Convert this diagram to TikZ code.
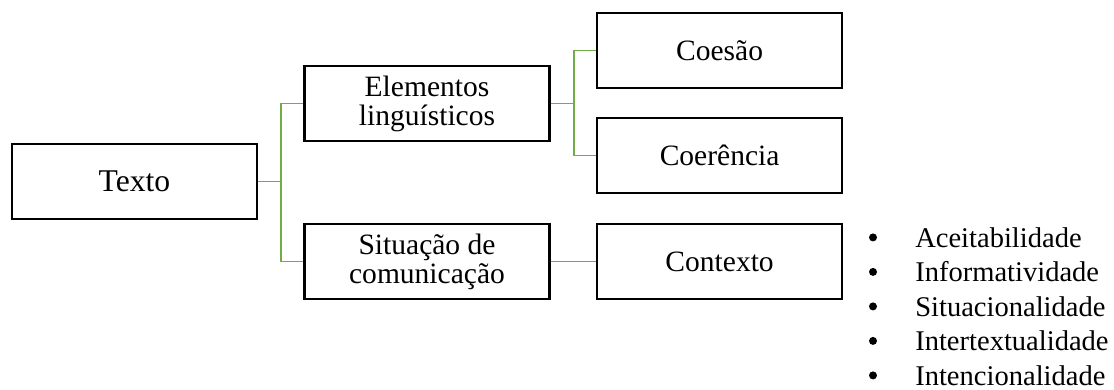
\documentclass[tikz,border=0pt]{standalone}
\usepackage{fontspec}
\setmainfont{Liberation Serif}
\usepackage{tikz}
\usetikzlibrary{calc}
\definecolor{verde}{HTML}{70AD47}

\begin{document}
\begin{tikzpicture}[
    caixa/.style={draw,line width=1.8pt,minimum width=6.125cm,minimum height=1.875cm,
      inner sep=0pt,align=center,font=\fontsize{21pt}{20.6pt}\selectfont},
    ligacao/.style={verde,line width=1.1pt},
    marca/.style={circle,fill,inner sep=0pt,minimum size=0.2cm},
    item/.style={anchor=base west,inner sep=0pt,font=\fontsize{20.3pt}{24pt}\selectfont}
  ]
      \useasboundingbox (0,0) rectangle (27.85,-9.725);

      % caixas
      \node[caixa,font=\fontsize{22.5pt}{22pt}\selectfont] (texto) at (3.36,-4.54) {Texto};
      \node[caixa] (elem) at (10.675,-2.59) {Elementos\\linguísticos};
      \node[caixa] (sit) at (10.675,-6.54) {Situação de\\comunicação};
      \node[caixa] (coesao) at (17.99,-1.26) {Coesão};
      \node[caixa] (coer) at (17.99,-3.89) {Coerência};
      \node[caixa] (cont) at (17.99,-6.54) {Contexto};

      % ligacoes
      \draw[ligacao] (texto.east) -- ++(0.575,0) coordinate (j1);
      \draw[ligacao] (j1) |- (elem.west);
      \draw[ligacao] (j1) |- (sit.west);
      \draw[ligacao] (elem.east) -- ++(0.575,0) coordinate (j2);
      \draw[ligacao] (j2) |- (coesao.west);
      \draw[ligacao] (j2) |- (coer.west);
      \draw[ligacao] (sit.east) -- (cont.west);

      % lista
      \foreach \t [count=\i] in {Aceitabilidade,Informatividade,Situacionalidade,Intertextualidade,Intencionalidade} {
        \pgfmathsetmacro\yb{-6.175-0.8625*(\i-1)}
        \node[marca] (p\i) at (21.825,\yb+0.24) {};
        \node[item] (item\i) at (22.875,\yb) {\t};
      }
\end{tikzpicture}
\end{document}
